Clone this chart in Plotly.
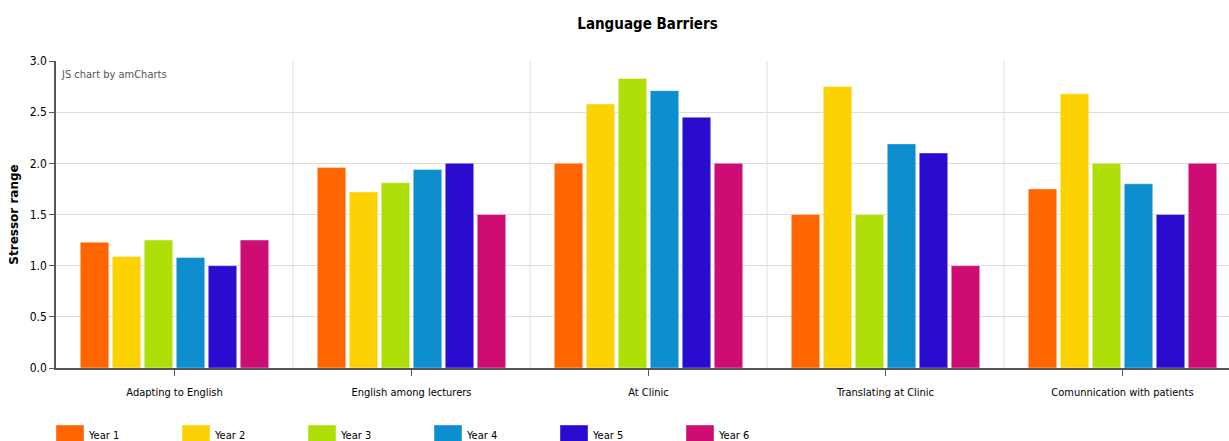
import plotly.graph_objects as go

# Categories and per-year stressor scores
categories = [
    "Adapting to English",
    "English among lecturers",
    "At Clinic",
    "Translating at Clinic",
    "Comunnication with patients",
]
series_names = ["Year 1", "Year 2", "Year 3", "Year 4", "Year 5", "Year 6"]
year1 = [1.23, 1.96, 2.00, 1.50, 1.75]
year2 = [1.09, 1.72, 2.58, 2.75, 2.68]
year3 = [1.25, 1.81, 2.83, 1.50, 2.00]
year4 = [1.08, 1.94, 2.71, 2.19, 1.80]
year5 = [1.00, 2.00, 2.45, 2.10, 1.50]
year6 = [1.25, 1.50, 2.00, 1.00, 2.00]
series_values = [year1, year2, year3, year4, year5, year6]
y_tick_values = [0.0, 0.5, 1.0, 1.5, 2.0, 2.5, 3.0]

colors = ["#FF6600", "#FCD202", "#B0DE09", "#0D8ECF", "#2A0CD0", "#CD0D74"]

NARROW = "Liberation Sans Narrow, Arial Narrow, DejaVu Sans Condensed, sans-serif"
WIDE = "DejaVu Sans, Verdana, sans-serif"

W, H = 1229, 441
L, T, B = 56, 61, 73
plot_w = W - L
plot_h = H - T - B

fig = go.Figure()
for name, vals, col in zip(series_names, series_values, colors):
    fig.add_trace(go.Bar(
        name=name,
        x=categories,
        y=vals,
        marker=dict(color=col, line=dict(color="rgba(255,255,255,0.4)", width=1)),
        showlegend=False,
    ))

# vertical separators between category groups
shapes = []
for i in range(len(categories)):
    shapes.append(dict(
        type="line", xref="x", yref="paper",
        x0=i + 0.5, x1=i + 0.5, y0=0, y1=1,
        line=dict(color="#dddddd", width=1), layer="below",
    ))

# legend row drawn under the plot
annotations = []
legend_step = 126
for i, (name, col) in enumerate(zip(series_names, colors)):
    px0 = 56 + i * legend_step
    x0 = (px0 - L) / plot_w
    x1 = (px0 + 28 - L) / plot_w
    y_top = (T + plot_h - 425) / plot_h
    y_bot = (T + plot_h - 442) / plot_h
    shapes.append(dict(
        type="rect", xref="paper", yref="paper",
        x0=x0, x1=x1, y0=y_bot, y1=y_top,
        fillcolor=col, line=dict(color="rgba(255,255,255,0.4)", width=1),
    ))
    annotations.append(dict(
        text=name, xref="paper", yref="paper",
        x=(px0 + 30 - L) / plot_w, y=(T + plot_h - 435) / plot_h,
        xanchor="left", yanchor="middle", showarrow=False,
        font=dict(family=NARROW, size=11, color="#000000"),
    ))

annotations.append(dict(
    text="JS chart by amCharts", xref="paper", yref="paper",
    x=0, y=1, xshift=3, yshift=-5, xanchor="left", yanchor="top",
    showarrow=False, font=dict(family=NARROW, size=11, color="#555555"),
))

fig.update_layout(
    width=W, height=H,
    margin=dict(l=L, r=0, t=T, b=B, autoexpand=False),
    paper_bgcolor="white", plot_bgcolor="white",
    barmode="group", bargap=0.19, bargroupgap=0.11,
    title=dict(
        text="<b>Language Barriers</b>",
        x=647.5 / W, xref="container", xanchor="center",
        y=1 - 24 / H, yref="container", yanchor="middle",
        font=dict(family=NARROW, size=15, color="#000000"),
    ),
    xaxis=dict(
        range=[-0.5, (W - L) / ((W + 12 - L) / len(categories)) - 0.5],
        showgrid=False, zeroline=False,
        showline=True, linecolor="#555555", linewidth=1.5,
        ticks="outside", ticklen=6, tickcolor="#555555",
        ticklabelstandoff=7,
        tickfont=dict(family=NARROW, size=11, color="#000000"),
    ),
    yaxis=dict(
        range=[0, 3], tickvals=y_tick_values, tickformat=".1f",
        showgrid=True, gridcolor="#dddddd", gridwidth=1, zeroline=False,
        showline=True, linecolor="#555555", linewidth=1.5,
        ticks="outside", ticklen=5, tickcolor="#555555",
        tickfont=dict(family=NARROW, size=12, color="#000000"),
        title=dict(text="<b>Stressor range</b>", standoff=8,
                   font=dict(family=WIDE, size=12, color="#000000")),
    ),
    shapes=shapes,
    annotations=annotations,
)

fig.write_html("out.html")
